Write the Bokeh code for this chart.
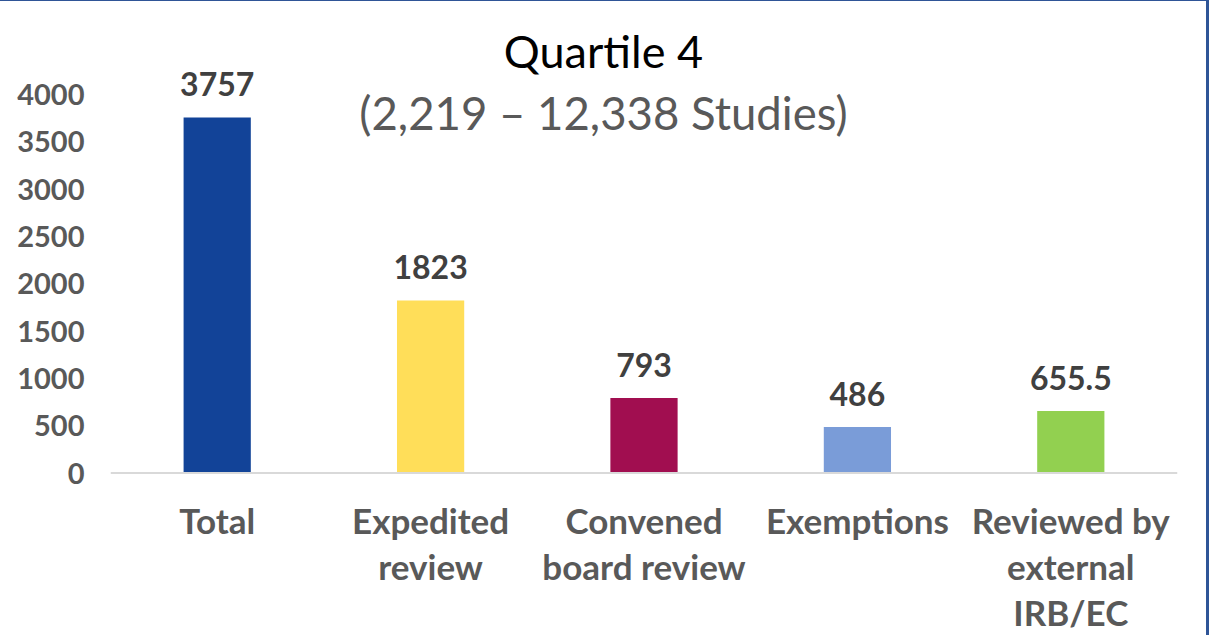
from bokeh.plotting import figure
from bokeh.models import ColumnDataSource, LabelSet, Label, Range1d, FixedTicker, FactorRange, Span
from bokeh.core.properties import value
from bokeh.embed import file_html
from bokeh.resources import INLINE

# ---- data ----
categories = ["Total", "Expedited review", "Convened board review", "Exemptions",
              "Reviewed by external IRB/EC"]
cat_lines = [["Total"], ["Expedited", "review"], ["Convened", "board review"],
             ["Exemptions"], ["Reviewed by", "external", "IRB/EC"]]
values = [3757, 1823, 793, 486, 655.5]
value_labels = ["3757", "1823", "793", "486", "655.5"]
colors = ["#124398", "#FFDE59", "#A10E50", "#7A9CD8", "#92D050"]
y_ticks = [0, 500, 1000, 1500, 2000, 2500, 3000, 3500, 4000]
title_text = "Quartile 4"
subtitle_text = "(2,219 \u2013 12,338 Studies)"

FONT = "Lato"

p = figure(width=1209, height=635, output_backend="svg", toolbar_location=None,
           x_range=FactorRange(*categories, range_padding=0),
           y_range=Range1d(-1717, 4993),
           min_border_left=110, min_border_right=32, min_border_top=0, min_border_bottom=0)
p.outline_line_color = None
p.grid.visible = False
p.background_fill_color = None
p.border_fill_color = None
p.styles = {"box-shadow": "inset 0 1px 0 0 #2F5597, inset -3px 0 0 0 #2F5597",
            "background-color": "white"}

src = ColumnDataSource(dict(x=categories, top=values, color=colors, lab=value_labels))
p.vbar(x="x", top="top", width=0.315, color="color", source=src, line_color=None)

# baseline
p.add_layout(Span(location=0, dimension="width", line_color="#D9D9D9", line_width=2))

# value labels
p.add_layout(LabelSet(x="x", y="top", text="lab", source=src, y_offset=21,
                      text_align="center", text_baseline="alphabetic",
                      text_font=value(FONT), text_font_style="bold",
                      text_font_size="32px", text_color="#404040"))

# y axis
p.yaxis.ticker = FixedTicker(ticks=y_ticks)
p.yaxis.axis_line_color = None
p.yaxis.major_tick_line_color = None
p.yaxis.minor_tick_line_color = None
p.yaxis.major_label_standoff = 20
p.yaxis.major_label_text_font = FONT
p.yaxis.major_label_text_font_style = "bold"
p.yaxis.major_label_text_font_size = "29px"
p.yaxis.major_label_text_color = "#595959"

p.xaxis.visible = False

# category labels (wrapped)
lx, ly, lt = [], [], []
for c, lines in zip(categories, cat_lines):
    for i, t in enumerate(lines):
        lx.append(c)
        ly.append(-(47 + 46 * i))
        lt.append(t)
lsrc = ColumnDataSource(dict(x=lx, off=ly, t=lt, y=[0] * len(lx)))
p.add_layout(LabelSet(x="x", y="y", y_offset="off", text="t", source=lsrc,
                      text_align="center", text_baseline="middle",
                      text_font=value(FONT), text_font_style="bold",
                      text_font_size="35px", text_color="#595959"))

# titles
p.add_layout(Label(x=2.31, y=4455, text=title_text, text_align="center",
                   text_baseline="middle", text_font=FONT,
                   text_font_size="45px", text_color="#000000"))
p.add_layout(Label(x=2.31, y=3810, text=subtitle_text, text_align="center",
                   text_baseline="middle", text_font=FONT,
                   text_font_size="45.5px", text_color="#595959"))

open("out.html", "w").write(file_html(p, INLINE))
